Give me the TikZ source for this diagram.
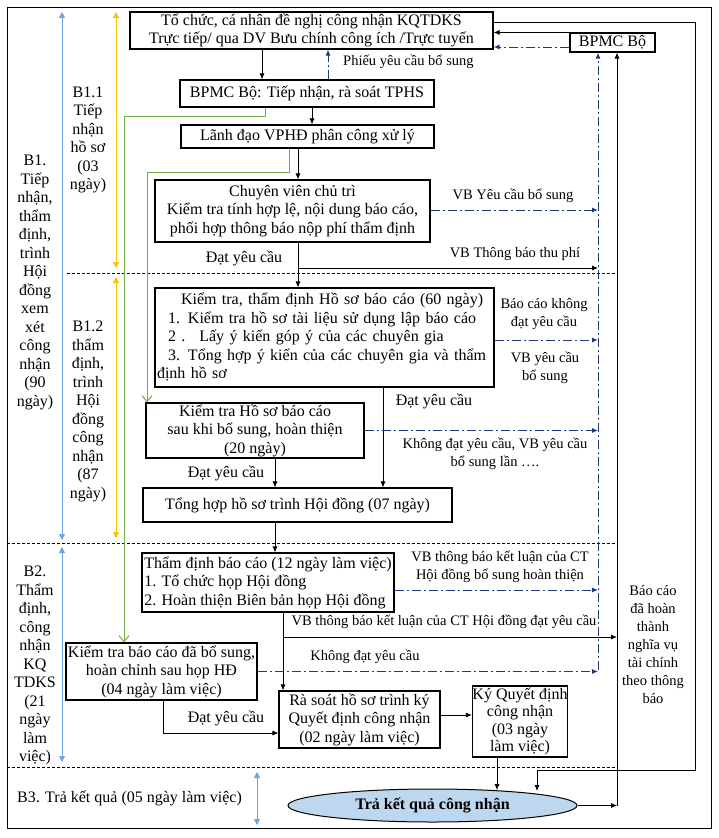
\documentclass[tikz,border=0pt]{standalone}
\usepackage{fontspec}
\setmainfont{Liberation Serif}
\usetikzlibrary{arrows.meta,shapes.geometric}
\definecolor{dashblue}{RGB}{31,56,120}
\definecolor{stepgreen}{RGB}{112,173,71}
\definecolor{stepblue}{RGB}{110,165,220}
\definecolor{steporange}{RGB}{255,192,0}
\definecolor{resfill}{RGB}{189,215,238}

\begin{document}
\begin{tikzpicture}[x=1pt,y=-1pt,
  box/.style={draw,line width=1.1pt,align=center,inner sep=1pt,font=\fontsize{16}{18.5}\selectfont},
  lbl/.style={align=center,inner sep=0pt,font=\fontsize{14.5}{18}\selectfont},
  side/.style={align=center,inner sep=0pt,font=\fontsize{16}{18.5}\selectfont},
  arr/.style={-{Latex[length=6pt,width=5pt]},line width=0.8pt},
  retarrow/.style={-{Latex[length=6pt,width=5pt]},dashblue,line width=1pt,dash pattern=on 9pt off 3pt on 2pt off 3pt},
  greenline/.style={-{Straight Barb[length=6pt,width=10pt]},stepgreen,line width=1pt},
  spanarr/.style={{Triangle[length=6pt,width=6pt]}-{Triangle[length=6pt,width=6pt]},line width=0.9pt},
  sepline/.style={line width=0.8pt,dash pattern=on 3pt off 2pt}]
\useasboundingbox (0,0) rectangle (718,838);
\draw[line width=1pt] (7,7) rectangle (711,828);

% boxes
\node[box,minimum width=363pt,minimum height=37pt] (org) at (311.5,30.5) {Tổ chức, cá nhân đề nghị công nhận KQTDKS\\Trực tiếp/ qua DV Bưu chính công ích /Trực tuyến};
\node[box,minimum width=85pt,minimum height=19pt] (bpmc) at (612.5,42.5) {BPMC Bộ};
\node[box,minimum width=254pt,minimum height=27pt] (recv) at (307,93.5) {BPMC Bộ: Tiếp nhận, rà soát TPHS};
\node[box,minimum width=253pt,minimum height=23pt] (lead) at (307.5,136.5) {Lãnh đạo VPHĐ phân công xử lý};
\node[box,minimum width=275pt,minimum height=62pt] (spec) at (292.5,211) {Chuyên viên chủ trì\\Kiểm tra tính hợp lệ, nội dung báo cáo,\\phối hợp thông báo nộp phí thẩm định};
\node[box,minimum width=339pt,minimum height=99pt,align=left,text width=335pt] (check) at (324.5,337.5) {\hspace*{24pt}Kiểm tra, thẩm định Hồ sơ báo cáo (60 ngày)\\\hspace*{11pt}1. Kiểm tra hồ sơ tài liệu sử dụng lập báo cáo\\\hspace*{11pt}2 .\hspace{14pt}Lấy ý kiến góp ý của các chuyên gia\\\hspace*{11pt}3. Tổng hợp ý kiến của các chuyên gia và thẩm\\định hồ sơ};
\node[box,minimum width=218pt,minimum height=55pt] (recheck) at (255,430.5) {Kiểm tra Hồ sơ báo cáo\\sau khi bổ sung, hoàn thiện\\(20 ngày)};
\node[box,minimum width=309pt,minimum height=34pt] (sum) at (297.5,505) {Tổng hợp hồ sơ trình Hội đồng (07 ngày)};
\node[box,minimum width=252pt,minimum height=59pt,align=left,inner sep=0pt] (appr) at (268,582.5) {Thẩm định báo cáo (12 ngày làm việc)\\1. Tổ chức họp Hội đồng\\2. Hoàn thiện Biên bản họp Hội đồng};
\node[box,minimum width=191pt,minimum height=57pt] (fix) at (161.5,671.5) {Kiểm tra báo cáo đã bổ sung,\\hoàn chỉnh sau họp HĐ\\(04 ngày làm việc)};
\node[box,minimum width=161pt,minimum height=57pt] (review) at (359.5,719.5) {Rà soát hồ sơ trình ký\\Quyết định công nhận\\(02 ngày làm việc)};
\node[box,minimum width=86pt,minimum height=71pt,inner sep=0pt,font=\fontsize{16}{17.5}\selectfont] (sign) at (520,721.5) {Ký Quyết định\\công nhận\\(03 ngày\\làm việc)};
\node[ellipse,draw,line width=1pt,fill=resfill,minimum width=289pt,minimum height=33pt,inner sep=0pt,font=\fontsize{16}{18}\selectfont\bfseries] (result) at (432.5,805.5) {Trả kết quả công nhận};

% side labels
\node[side] (b1) at (35,282.5) {B1.\\Tiếp\\nhận,\\thẩm\\định,\\trình\\Hội\\đồng\\xem\\xét\\công\\nhận\\(90\\ngày)};
\node[side] (b11) at (88,140) {B1.1\\Tiếp\\nhận\\hồ sơ\\(03\\ngày)};
\node[side] (b12) at (88,411.5) {B1.2\\thẩm\\định,\\trình\\Hội\\đồng\\công\\nhận\\(87\\ngày)};
\node[side] (b2) at (35,665.5) {B2.\\Thẩm\\định,\\công\\nhận\\KQ\\TDKS\\(21\\ngày\\làm\\việc)};
\node[side,anchor=west] (b3) at (17,798) {B3. Trả kết quả (05 ngày làm việc)};
\draw[spanarr,stepblue] (62,12) -- (62,540);
\draw[spanarr,stepblue] (62,547) -- (62,762);
\draw[spanarr,steporange] (116,12) -- (116,268);
\draw[spanarr,steporange] (116,277) -- (116,538);
\draw[spanarr,stepblue] (257,772) -- (257,825);
\draw[sepline] (67,273) -- (617,273);
\draw[sepline] (7,543) -- (617,543);
\draw[sepline] (7,767) -- (617,767);

% bus lines on the right
\coordinate (busend) at (598,670);
\coordinate (solidend) at (617,805.5);
\draw[retarrow] (busend) -- (busend |- bpmc.south);
\draw[arr] (solidend) -- (solidend |- bpmc.south);
\draw[arr] (result.east) -- (solidend);
\draw[arr] (bpmc.north west) -- (bpmc.north west -| org.east);
\draw[retarrow] (bpmc.west |- 0,47) -- (org.east |- 0,47);
\draw[arr] (org.east |- 0,22) -- (695,22) -- (695,770) -- (537,770) -- (537,791);
\node[lbl] (lfin) at (653,645) {Báo cáo\\đã hoàn\\thành\\nghĩa vụ\\tài chính\\theo thông\\báo};

% main flow
\draw[arr] (262,0 |- org.south) -- (262,0 |- recv.north);
\draw[retarrow] (328,0 |- recv.north) -- (328,0 |- org.south);
\node[lbl,anchor=west] (lphieu) at (343,62) {Phiếu yêu cầu bổ sung};
\draw[arr] (312,0 |- recv.south) -- (312,0 |- lead.north);
\draw[arr] (298,0 |- lead.south) -- (298,0 |- spec.north);
\draw[retarrow] (spec.east |- 0,210) -- (busend |- 0,210);
\node[lbl] (lvb1) at (513,196) {VB Yêu cầu bổ sung};
\draw[arr] (298,0 |- spec.south) -- (298,0 |- check.north);
\node[side] (lok1) at (244,258) {Đạt yêu cầu};
\draw[arr] (298,268) -- (busend |- 0,268);
\node[lbl] (lfee) at (515,254) {VB Thông báo thu phí};
\draw[retarrow] (check.east |- 0,340) -- (busend |- 0,340);
\node[lbl] (lno1) at (544,314) {Báo cáo không\\đạt yêu cầu};
\node[lbl] (lvb2) at (545,368) {VB yêu cầu\\bổ sung};
\draw[arr] (383,0 |- check.south) -- (383,0 |- sum.north);
\node[side] (lok2) at (434,401) {Đạt yêu cầu};
\draw[retarrow] (recheck.east) -- (recheck.east -| busend);
\node[lbl] (lno2) at (495,454) {Không đạt yêu cầu, VB yêu cầu\\bổ sung lần ….};
\draw[arr] (275,0 |- recheck.south) -- (275,0 |- sum.north);
\node[side] (lok3) at (226,473) {Đạt yêu cầu};
\draw[arr] (275,0 |- sum.south) -- (275,0 |- appr.north);
\draw[retarrow] (appr.east |- 0,590) -- (busend |- 0,590);
\node[lbl] (lvb3) at (500,567) {VB thông báo kết luận của CT\\Hội đồng bổ sung hoàn thiện};
\draw[arr] (283,0 |- appr.south) -- (283,0 |- review.north);
\draw[arr] (283,637) -- (solidend |- 0,637);
\node[lbl] (lvb4) at (444,622) {VB thông báo kết luận của CT Hội đồng đạt yêu cầu};
\draw[retarrow] (fix.east) -- (fix.east -| busend);
\node[lbl] (lno3) at (365,657) {Không đạt yêu cầu};
\draw[arr] (163,0 |- fix.south) |- (review.west |- 0,733);
\node[side] (lok4) at (226,718) {Đạt yêu cầu};
\draw[arr] (review.east |- 0,715) -- (sign.west |- 0,715);
\draw[arr] (497,0 |- sign.south) -- (497,790);

% green shortcuts
\draw[greenline] (265,0 |- recv.south) -- (265,116) -- (124,116) -- (124,0 |- fix.north);
\draw[greenline] (289,0 |- lead.south) -- (289,172) -- (147,172) -- (147,0 |- recheck.north);
\end{tikzpicture}
\end{document}
